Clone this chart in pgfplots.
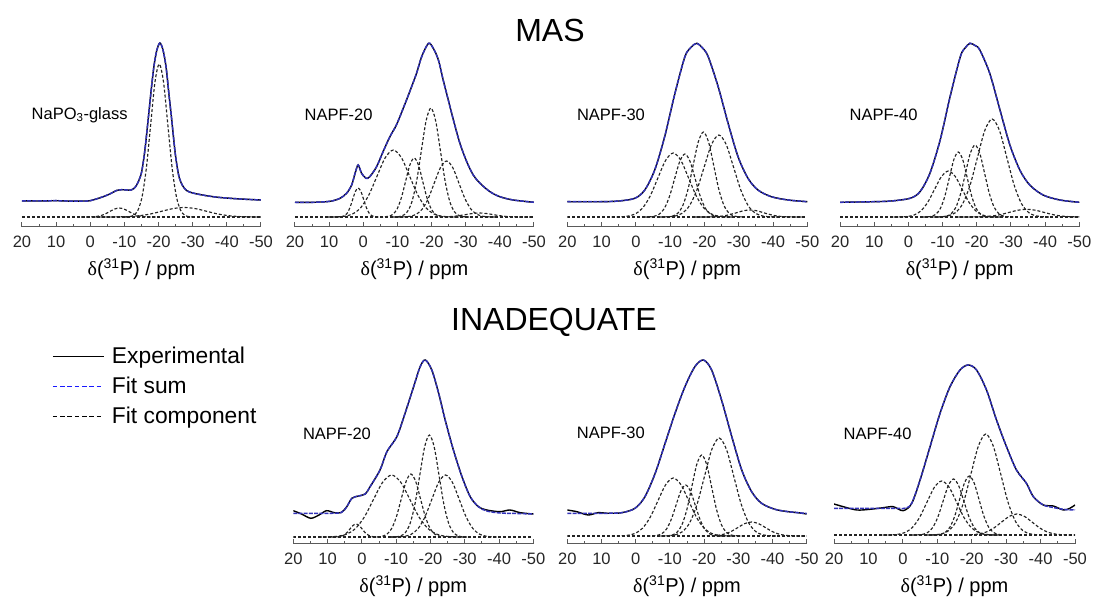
\documentclass[border=0pt]{standalone}
\usepackage{pgfplots}
\pgfplotsset{compat=1.18}
\usepackage{fontspec}
\setmainfont{Liberation Sans}
\newfontfamily\greekserif{Liberation Serif}

\definecolor{axisgray}{RGB}{90,90,90}
\definecolor{compgray}{RGB}{35,35,35}
\definecolor{sumblue}{RGB}{50,50,185}
\definecolor{legendblue}{RGB}{25,25,255}

\newcommand{\shiftlabel}{{\greekserif δ}(\textsuperscript{31}P) / ppm}

\pgfplotsset{
  nmr/.style={
    scale only axis, height=200pt,
    xmin=-50, xmax=20, x dir=reverse,
    ymin=0, ymax=200,
    axis x line*=bottom, axis y line=none, ytick=\empty,
    axis line style={-, axisgray, line width=1pt},
    xtick={-50,-40,-30,-20,-10,0,10,20},
    xticklabels={-50,-40,-30,-20,-10,0,10,20},
    minor x tick num=1,
    tick align=inside,
    major tick length=5pt, minor tick length=3pt,
    every tick/.style={axisgray, line width=1pt},
    xticklabel style={font=\fontsize{16.5}{16.5}\selectfont, text=black!85, anchor=north, yshift=-5pt},
    xlabel={\shiftlabel},
    xlabel style={font=\fontsize{20}{20}\selectfont, at={(axis description cs:0.5,0)}, anchor=center, yshift=-42pt},
    anchor=south west,
  },
  exp/.style={black, line width=1.4pt, smooth},
  fit/.style={sumblue, line width=1.5pt, dash pattern=on 4pt off 1.2pt, smooth},
  comp/.style={compgray, line width=1.15pt, dash pattern=on 3pt off 2pt, smooth},
  base/.style={compgray, line width=1.15pt, dash pattern=on 3pt off 2pt},
}
\tikzset{tag/.style={anchor=west, font=\fontsize{16.5}{16.5}\selectfont}}

\begin{document}
\begin{tikzpicture}
\useasboundingbox (0pt,0pt) rectangle (1096pt,604pt);

\node[font=\fontsize{32}{32}\selectfont] at (550pt,574pt) {MAS};
\node[font=\fontsize{32}{32}\selectfont] at (554pt,282pt) {INADEQUATE};

% ---------------- MAS: NaPO3 glass ----------------
\begin{axis}[nmr, width=239pt, at={(22pt,377pt)}]
\addplot[base] coordinates {(20,10)(-50,10)};
\addplot[comp] coordinates {(-10.2,10)(-11.45,10.3)(-12.7,11.7)(-13.95,16.7)(-15.2,30.7)(-16.45,59.7)(-17.7,102.8)(-18.95,145.0)(-20.2,163)(-21.45,145.0)(-22.7,102.8)(-23.95,59.7)(-25.2,30.7)(-26.45,16.7)(-27.7,11.7)(-28.95,10.3)(-30.2,10)};
\addplot[comp] coordinates {(2.7,10)(1.3,10.0)(-0.1,10.1)(-1.5,10.4)(-2.9,11.2)(-4.3,12.9)(-5.7,15.5)(-7.1,17.9)(-8.5,19)(-9.9,17.9)(-11.3,15.5)(-12.7,12.9)(-14.1,11.2)(-15.5,10.4)(-16.9,10.1)(-18.3,10.0)(-19.7,10)};
\addplot[comp] coordinates {(-1.5,10)(-4.75,10.0)(-8,10.1)(-11.25,10.4)(-14.5,11.3)(-17.75,13.1)(-21,15.8)(-24.25,18.4)(-27.5,19.5)(-30.75,18.4)(-34,15.8)(-37.25,13.1)(-40.5,11.3)(-43.75,10.4)(-47,10.1)(-50.25,10.0)(-53.5,10)};
\addplot[exp] coordinates {(20,26.2)(15,26)(10,26.3)(5,25.8)(2,26)(0,26.3)(-3.8,30.3)(-6,33.5)(-7.7,36.5)(-9.2,37.3)(-10.7,37)(-12,37)(-12.8,38.5)(-13.6,42)(-14.4,48)(-15.1,56)(-16,77)(-17,109)(-18,142)(-18.7,162)(-19.5,177)(-20.4,184)(-21.3,177)(-22.2,160)(-23,134)(-23.8,109)(-24.8,76)(-25.5,59)(-26.1,49)(-27,41.5)(-28.2,36.5)(-30,34)(-34,31.3)(-38,29.5)(-44,28)(-50,27)};
\addplot[fit] coordinates {(20,26.2)(15,26)(10,26.3)(5,25.8)(2,26)(0,26.3)(-3.8,30.3)(-6,33.5)(-7.7,36.5)(-9.2,37.3)(-10.7,37)(-12,37)(-12.8,38.5)(-13.6,42)(-14.4,48)(-15.1,56)(-16,77)(-17,109)(-18,142)(-18.7,162)(-19.5,177)(-20.4,184)(-21.3,177)(-22.2,160)(-23,134)(-23.8,109)(-24.8,76)(-25.5,59)(-26.1,49)(-27,41.5)(-28.2,36.5)(-30,34)(-34,31.3)(-38,29.5)(-44,28)(-50,27)};
\node[tag] at (axis cs:18.2,112) {NaPO\textsubscript{3}-glass};
\end{axis}

% ---------------- MAS: NAPF-20 ----------------
\begin{axis}[nmr, width=239pt, at={(295pt,377pt)}]
\addplot[base] coordinates {(20,10)(-50,10)};
\addplot[comp] coordinates {(7.9,10)(7.1,10.1)(6.3,10.3)(5.5,11.3)(4.7,13.9)(3.9,19.4)(3.1,27.6)(2.3,35.6)(1.5,39)(0.7,35.6)(-0.1,27.6)(-0.9,19.4)(-1.7,13.9)(-2.5,11.3)(-3.3,10.3)(-4.1,10.1)(-4.9,10)};
\addplot[comp] coordinates {(10.4,10)(8.0,10.1)(5.6,10.7)(3.2,12.9)(0.8,19.1)(-1.6,31.8)(-4.0,50.6)(-6.4,69.1)(-8.8,77)(-11.2,69.1)(-13.6,50.6)(-16.0,31.8)(-18.4,19.1)(-20.8,12.9)(-23.2,10.7)(-25.6,10.1)(-28.0,10)};
\addplot[comp] coordinates {(-4.9,10)(-6.15,10.1)(-7.4,10.7)(-8.65,12.6)(-9.9,18.0)(-11.15,29.2)(-12.4,45.8)(-13.65,62.1)(-14.9,69)(-16.15,62.1)(-17.4,45.8)(-18.65,29.2)(-19.9,18.0)(-21.15,12.6)(-22.4,10.7)(-23.65,10.1)(-24.9,10)};
\addplot[comp] coordinates {(-8.6,10)(-10.0,10.2)(-11.4,11.2)(-12.8,14.8)(-14.2,24.7)(-15.6,45.4)(-17.0,76.1)(-18.4,106.2)(-19.8,119)(-21.2,106.2)(-22.6,76.1)(-24.0,45.4)(-25.4,24.7)(-26.8,14.8)(-28.2,11.2)(-29.6,10.2)(-31.0,10)};
\addplot[comp] coordinates {(-10.0,10)(-11.8,10.1)(-13.6,10.6)(-15.4,12.5)(-17.2,17.6)(-19.0,28.2)(-20.8,44.0)(-22.6,59.4)(-24.4,66)(-26.2,59.4)(-28.0,44.0)(-29.8,28.2)(-31.6,17.6)(-33.4,12.5)(-35.2,10.6)(-37.0,10.1)(-38.8,10)};
\addplot[comp] coordinates {(-18,10)(-20,10)(-22,10.0)(-24,10.2)(-26,10.5)(-28,11.3)(-30,12.4)(-32,13.5)(-34,14)(-36,13.5)(-38,12.4)(-40,11.3)(-42,10.5)(-44,10.2)(-46,10.0)(-48,10)(-50,10)};
\addplot[exp] coordinates {(20,24.7)(14.6,24.7)(9.7,25.7)(6.8,28.7)(4.9,33.7)(3.4,42)(2.4,53.7)(1.5,62)(0.5,53.7)(-0.8,48.7)(-1.9,50.3)(-3.9,60.3)(-5.8,75.3)(-7.8,90.3)(-9.7,102)(-11.7,118.7)(-13.6,135.3)(-15.6,153.7)(-17.1,170.3)(-19.1,183.7)(-20.5,178.7)(-22,167)(-23.4,147)(-24.9,127)(-26.4,107)(-28.3,83.7)(-30.3,65.3)(-32.2,52)(-34.2,43.7)(-37.1,35.3)(-40,30.3)(-43.9,27)(-50,24.7)};
\addplot[fit] coordinates {(20,24.7)(14.6,24.7)(9.7,25.7)(6.8,28.7)(4.9,33.7)(3.4,42)(2.4,53.7)(1.5,62)(0.5,53.7)(-0.8,48.7)(-1.9,50.3)(-3.9,60.3)(-5.8,75.3)(-7.8,90.3)(-9.7,102)(-11.7,118.7)(-13.6,135.3)(-15.6,153.7)(-17.1,170.3)(-19.1,183.7)(-20.5,178.7)(-22,167)(-23.4,147)(-24.9,127)(-26.4,107)(-28.3,83.7)(-30.3,65.3)(-32.2,52)(-34.2,43.7)(-37.1,35.3)(-40,30.3)(-43.9,27)(-50,24.7)};
\node[tag] at (axis cs:18.2,112) {NAPF-20};
\end{axis}

% ---------------- MAS: NAPF-30 ----------------
\begin{axis}[nmr, width=240pt, at={(567.3pt,377pt)}]
\addplot[base] coordinates {(20,10)(-50,10)};
\addplot[comp] coordinates {(7.1,10)(4.85,10.1)(2.6,10.7)(0.35,12.8)(-1.9,18.7)(-4.15,30.8)(-6.4,48.8)(-8.65,66.5)(-10.9,74)(-13.15,66.5)(-15.4,48.8)(-17.65,30.8)(-19.9,18.7)(-22.15,12.8)(-24.4,10.7)(-26.65,10.1)(-28.9,10)};
\addplot[comp] coordinates {(-2.3,10)(-3.8,10.1)(-5.3,10.7)(-6.8,12.8)(-8.3,18.5)(-9.8,30.5)(-11.3,48.2)(-12.8,65.6)(-14.3,73)(-15.8,65.6)(-17.3,48.2)(-18.8,30.5)(-20.3,18.5)(-21.8,12.8)(-23.3,10.7)(-24.8,10.1)(-26.3,10)};
\addplot[comp] coordinates {(-7.7,10)(-9.2,10.2)(-10.7,10.9)(-12.2,13.7)(-13.7,21.5)(-15.2,37.6)(-16.7,61.6)(-18.2,85.0)(-19.7,95)(-21.2,85.0)(-22.7,61.6)(-24.2,37.6)(-25.7,21.5)(-27.2,13.7)(-28.7,10.9)(-30.2,10.2)(-31.7,10)};
\addplot[comp] coordinates {(-7.0,10)(-9.15,10.2)(-11.3,10.9)(-13.45,13.6)(-15.6,21.1)(-17.75,36.6)(-19.9,59.7)(-22.05,82.4)(-24.2,92)(-26.35,82.4)(-28.5,59.7)(-30.65,36.6)(-32.8,21.1)(-34.95,13.6)(-37.1,10.9)(-39.25,10.2)(-41.4,10)};
\addplot[comp] coordinates {(-17.3,10)(-19.3,10)(-21.3,10.1)(-23.3,10.3)(-25.3,10.9)(-27.3,12.3)(-29.3,14.2)(-31.3,16.2)(-33.3,17)(-35.3,16.2)(-37.3,14.2)(-39.3,12.3)(-41.3,10.9)(-43.3,10.3)(-45.3,10.1)(-47.3,10)(-49.3,10)};
\addplot[exp] coordinates {(20,25.3)(10,25.3)(5,26)(0.3,28.7)(-2.6,37)(-5.5,57)(-8.4,90.3)(-11.4,133.7)(-14.3,170.3)(-16,179.3)(-17.7,183.7)(-19.5,178.8)(-21.1,170.3)(-24,140.3)(-26.9,103.7)(-29.8,70.3)(-32.7,48.7)(-35.6,37)(-39.5,30.3)(-44.4,27)(-50,25.3)};
\addplot[fit] coordinates {(20,25.3)(10,25.3)(5,26)(0.3,28.7)(-2.6,37)(-5.5,57)(-8.4,90.3)(-11.4,133.7)(-14.3,170.3)(-16,179.3)(-17.7,183.7)(-19.5,178.8)(-21.1,170.3)(-24,140.3)(-26.9,103.7)(-29.8,70.3)(-32.7,48.7)(-35.6,37)(-39.5,30.3)(-44.4,27)(-50,25.3)};
\node[tag] at (axis cs:18.2,112) {NAPF-30};
\end{axis}

% ---------------- MAS: NAPF-40 ----------------
\begin{axis}[nmr, width=239.3pt, at={(840pt,377pt)}]
\addplot[base] coordinates {(20,10)(-50,10)};
\addplot[comp] coordinates {(4.3,10)(2.3,10.1)(0.3,10.5)(-1.7,12.0)(-3.7,16.2)(-5.7,24.9)(-7.7,37.9)(-9.7,50.6)(-11.7,56)(-13.7,50.6)(-15.7,37.9)(-17.7,24.9)(-19.7,16.2)(-21.7,12.0)(-23.7,10.5)(-25.7,10.1)(-27.7,10)};
\addplot[comp] coordinates {(-4.2,10)(-5.5,10.1)(-6.8,10.7)(-8.1,12.9)(-9.4,18.8)(-10.7,31.1)(-12.0,49.4)(-13.3,67.4)(-14.6,75)(-15.9,67.4)(-17.2,49.4)(-18.5,31.1)(-19.8,18.8)(-21.1,12.9)(-22.4,10.7)(-23.7,10.1)(-25.0,10)};
\addplot[comp] coordinates {(-8.3,10)(-9.7,10.2)(-11.1,10.8)(-12.5,13.2)(-13.9,19.7)(-15.3,33.4)(-16.7,53.7)(-18.1,73.5)(-19.5,82)(-20.9,73.5)(-22.3,53.7)(-23.7,33.4)(-25.1,19.7)(-26.5,13.2)(-27.9,10.8)(-29.3,10.2)(-30.7,10)};
\addplot[comp] coordinates {(-7.3,10)(-9.45,10.2)(-11.6,11.1)(-13.75,14.3)(-15.9,23.3)(-18.05,41.8)(-20.2,69.4)(-22.35,96.5)(-24.5,108)(-26.65,96.5)(-28.8,69.4)(-30.95,41.8)(-33.1,23.3)(-35.25,14.3)(-37.4,11.1)(-39.55,10.2)(-41.7,10)};
\addplot[comp] coordinates {(-14.6,10)(-17.1,10)(-19.6,10.1)(-22.1,10.3)(-24.6,11.0)(-27.1,12.5)(-29.6,14.7)(-32.1,16.8)(-34.6,17.7)(-37.1,16.8)(-39.6,14.7)(-42.1,12.5)(-44.6,11.0)(-47.1,10.3)(-49.6,10.1)(-52.1,10)(-54.6,10)};
\addplot[exp] coordinates {(20,24.7)(10,25.3)(5,26)(-0.5,28.7)(-3.4,35.3)(-6.3,53.7)(-9.3,87)(-12.2,130.3)(-15.2,170.3)(-16.6,179)(-18,183.7)(-19.5,181.5)(-20.9,177)(-23.8,153.7)(-26.8,117)(-29.7,82)(-32.6,57)(-35.5,42)(-39.4,32)(-44.3,27)(-50,24.7)};
\addplot[fit] coordinates {(20,24.7)(10,25.3)(5,26)(-0.5,28.7)(-3.4,35.3)(-6.3,53.7)(-9.3,87)(-12.2,130.3)(-15.2,170.3)(-16.6,179)(-18,183.7)(-19.5,181.5)(-20.9,177)(-23.8,153.7)(-26.8,117)(-29.7,82)(-32.6,57)(-35.5,42)(-39.4,32)(-44.3,27)(-50,24.7)};
\node[tag] at (axis cs:18.2,112) {NAPF-40};
\end{axis}

% ---------------- INADEQUATE: NAPF-20 (carries the legend) ----------------
\begin{axis}[nmr, width=240pt, at={(293.3pt,60pt)},
  legend cell align=left,
  legend image code/.code={\draw[#1] (0pt,0pt) -- (51pt,0pt); \path (54pt,0pt);},
  legend style={at={(axis description cs:-1.005,0.995)}, anchor=north west,
    draw=none, fill=none, inner sep=0pt, row sep=8pt,
    font=\fontsize{22.8}{22.8}\selectfont,
    nodes={inner xsep=4.5pt, inner ysep=2pt}}]
\addlegendimage{black, line width=1.2pt}
\addlegendentry{Experimental}
\addlegendimage{legendblue, line width=1.2pt, dash pattern=on 4.5pt off 2.8pt}
\addlegendentry{Fit sum}
\addlegendimage{black, line width=1.2pt, dash pattern=on 4.5pt off 2.8pt}
\addlegendentry{Fit component}
\addplot[base] coordinates {(20,7)(-50,7)};
\addplot[comp] coordinates {(8.9,7)(8.0,7)(7.1,7.1)(6.2,7.6)(5.3,8.8)(4.4,11.2)(3.5,14.9)(2.6,18.5)(1.7,20)(0.8,18.5)(-0.1,14.9)(-1.0,11.2)(-1.9,8.8)(-2.8,7.6)(-3.7,7.1)(-4.6,7)(-5.5,7)};
\addplot[comp] coordinates {(12.5,7)(9.85,7.1)(7.2,7.7)(4.55,9.7)(1.9,15.4)(-0.75,27.1)(-3.4,44.6)(-6.05,61.7)(-8.7,69)(-11.35,61.7)(-14.0,44.6)(-16.65,27.1)(-19.3,15.4)(-21.95,9.7)(-24.6,7.7)(-27.25,7.1)(-29.9,7)};
\addplot[comp] coordinates {(-3.1,7)(-4.5,7.1)(-5.9,7.7)(-7.3,9.8)(-8.7,15.5)(-10.1,27.5)(-11.5,45.2)(-12.9,62.6)(-14.3,70)(-15.7,62.6)(-17.1,45.2)(-18.5,27.5)(-19.9,15.5)(-21.3,9.8)(-22.7,7.7)(-24.1,7.1)(-25.5,7)};
\addplot[comp] coordinates {(-8.5,7)(-9.9,7.2)(-11.3,8.1)(-12.7,11.5)(-14.1,20.8)(-15.5,40.1)(-16.9,68.9)(-18.3,97.0)(-19.7,109)(-21.1,97.0)(-22.5,68.9)(-23.9,40.1)(-25.3,20.8)(-26.7,11.5)(-28.1,8.1)(-29.5,7.2)(-30.9,7)};
\addplot[comp] coordinates {(-8.4,7)(-10.4,7.1)(-12.4,7.7)(-14.4,9.7)(-16.4,15.4)(-18.4,27.1)(-20.4,44.6)(-22.4,61.7)(-24.4,69)(-26.4,61.7)(-28.4,44.6)(-30.4,27.1)(-32.4,15.4)(-34.4,9.7)(-36.4,7.7)(-38.4,7.1)(-40.4,7)};
\addplot[exp] coordinates {(20,33.3)(17.6,30)(14.9,25.7)(12.5,29)(10.3,33.3)(8,31.3)(6,31.5)(4.4,37.3)(2.9,45.7)(1,48)(-1,50)(-2.4,57.3)(-5.3,74)(-7.3,92.3)(-10.2,107.3)(-12.6,130.7)(-15.1,157.3)(-17,177.3)(-18.5,184)(-20.4,174)(-22.4,150.7)(-24.3,124)(-26.7,94)(-29.2,67.3)(-31.6,47.3)(-34,37.3)(-36.4,34)(-40.3,32.3)(-43.2,34)(-46.2,31.3)(-50,30)};
\addplot[fit] coordinates {(20,30.7)(10,30.7)(6,31.5)(4.4,37.3)(2.9,45.7)(1,48)(-1,50)(-2.4,57.3)(-5.3,74)(-7.3,92.3)(-10.2,107.3)(-12.6,130.7)(-15.1,157.3)(-17,177.3)(-18.5,184)(-20.4,174)(-22.4,150.7)(-24.3,124)(-26.7,94)(-29.2,67.3)(-31.6,47.3)(-34,37.3)(-36.4,33)(-40.3,31)(-45,30.5)(-50,30)};
\node[tag] at (axis cs:18.2,110) {NAPF-20};
\end{axis}

% ---------------- INADEQUATE: NAPF-30 ----------------
\begin{axis}[nmr, width=239.4pt, at={(567.3pt,60pt)}]
\addplot[base] coordinates {(20,8)(-50,8)};
\addplot[comp] coordinates {(7,8)(4.75,8.1)(2.5,8.6)(0.25,10.5)(-2,15.8)(-4.25,26.8)(-6.5,43.2)(-8.75,59.2)(-11,66)(-13.25,59.2)(-15.5,43.2)(-17.75,26.8)(-20,15.8)(-22.25,10.5)(-24.5,8.6)(-26.75,8.1)(-29,8)};
\addplot[comp] coordinates {(-3.4,8)(-4.8,8.1)(-6.2,8.6)(-7.6,10.2)(-9.0,14.9)(-10.4,24.6)(-11.8,38.9)(-13.2,53.0)(-14.6,59)(-16.0,53.0)(-17.4,38.9)(-18.8,24.6)(-20.2,14.9)(-21.6,10.2)(-23.0,8.6)(-24.4,8.1)(-25.8,8)};
\addplot[comp] coordinates {(-7.7,8)(-9.15,8.2)(-10.6,8.9)(-12.05,11.6)(-13.5,19.0)(-14.95,34.3)(-16.4,57.1)(-17.85,79.5)(-19.3,89)(-20.75,79.5)(-22.2,57.1)(-23.65,34.3)(-25.1,19.0)(-26.55,11.6)(-28.0,8.9)(-29.45,8.2)(-30.9,8)};
\addplot[comp] coordinates {(-7.2,8)(-9.35,8.2)(-11.5,9.1)(-13.65,12.3)(-15.8,21.3)(-17.95,39.8)(-20.1,67.4)(-22.25,94.5)(-24.4,106)(-26.55,94.5)(-28.7,67.4)(-30.85,39.8)(-33.0,21.3)(-35.15,12.3)(-37.3,9.1)(-39.45,8.2)(-41.6,8)};
\addplot[comp] coordinates {(-17.9,8)(-19.9,8)(-21.9,8.2)(-23.9,8.6)(-25.9,9.9)(-27.9,12.5)(-29.9,16.5)(-31.9,20.4)(-33.9,22)(-35.9,20.4)(-37.9,16.5)(-39.9,12.5)(-41.9,9.9)(-43.9,8.6)(-45.9,8.2)(-47.9,8)(-49.9,8)};
\addplot[exp] coordinates {(20,34)(17.2,32.3)(13.9,29)(11,31.3)(8,30.7)(4.1,31.3)(0.2,35.7)(-2.7,47.3)(-5.7,70.7)(-8.6,100.7)(-11.5,130.7)(-14.4,157.3)(-17.3,177.3)(-19.8,184)(-22.2,174)(-25.1,144)(-28.1,107.3)(-31,74)(-33.9,52.3)(-36.8,40.7)(-40.7,34.7)(-44.6,32.3)(-47,31.5)(-50,30)};
\addplot[fit] coordinates {(20,30.7)(10,30.7)(4.1,31.3)(0.2,35.7)(-2.7,47.3)(-5.7,70.7)(-8.6,100.7)(-11.5,130.7)(-14.4,157.3)(-17.3,177.3)(-19.8,184)(-22.2,174)(-25.1,144)(-28.1,107.3)(-31,74)(-33.9,52.3)(-36.8,40.7)(-40.7,34.7)(-44.6,32.3)(-50,30.5)};
\node[tag] at (axis cs:18.2,110.7) {NAPF-30};
\end{axis}

% ---------------- INADEQUATE: NAPF-40 ----------------
\begin{axis}[nmr, width=241pt, at={(834pt,60pt)}]
\addplot[base] coordinates {(20,9)(-50,9)};
\addplot[comp] coordinates {(5.9,9)(3.75,9.1)(1.6,9.6)(-0.55,11.4)(-2.7,16.3)(-4.85,26.5)(-7.0,41.8)(-9.15,56.7)(-11.3,63)(-13.45,56.7)(-15.6,41.8)(-17.75,26.5)(-19.9,16.3)(-22.05,11.4)(-24.2,9.6)(-26.35,9.1)(-28.5,9)};
\addplot[comp] coordinates {(-2.7,9)(-4.2,9.1)(-5.7,9.6)(-7.2,11.5)(-8.7,16.6)(-10.2,27.2)(-11.7,43.0)(-13.2,58.4)(-14.7,65)(-16.2,58.4)(-17.7,43.0)(-19.2,27.2)(-20.7,16.6)(-22.2,11.5)(-23.7,9.6)(-25.2,9.1)(-26.7,9)};
\addplot[comp] coordinates {(-8.1,9)(-9.5,9.1)(-10.9,9.7)(-12.3,11.6)(-13.7,17.0)(-15.1,28.2)(-16.5,44.8)(-17.9,61.1)(-19.3,68)(-20.7,61.1)(-22.1,44.8)(-23.5,28.2)(-24.9,17.0)(-26.3,11.6)(-27.7,9.7)(-29.1,9.1)(-30.5,9)};
\addplot[comp] coordinates {(-6.9,9)(-9.05,9.2)(-11.2,10.1)(-13.35,13.4)(-15.5,22.7)(-17.65,41.8)(-19.8,70.3)(-21.95,98.1)(-24.1,110)(-26.25,98.1)(-28.4,70.3)(-30.55,41.8)(-32.7,22.7)(-34.85,13.4)(-37.0,10.1)(-39.15,9.2)(-41.3,9)};
\addplot[comp] coordinates {(-15.1,9)(-17.35,9)(-19.6,9.2)(-21.85,9.9)(-24.1,11.8)(-26.35,15.8)(-28.6,21.7)(-30.85,27.5)(-33.1,30)(-35.35,27.5)(-37.6,21.7)(-39.85,15.8)(-42.1,11.8)(-44.35,9.9)(-46.6,9.2)(-48.85,9)(-51.1,9)};
\addplot[exp] coordinates {(20,40)(17.3,37.3)(13.4,34)(9.5,34.7)(5.7,36.3)(2.8,37.3)(-0.1,33.3)(-2.6,40.7)(-5,64)(-7.9,97.3)(-10.8,130.7)(-13.7,157.3)(-16.6,174)(-19,179)(-21.4,174)(-24.3,154)(-27.2,124)(-30.1,97.3)(-33,74)(-35.9,60.7)(-37.9,47.3)(-40.8,39)(-43.7,38)(-46.6,34)(-48.5,35.7)(-50,39)};
\addplot[fit] coordinates {(20,35.7)(10,35.7)(4,35.7)(1,35.5)(-1,36)(-2.6,41)(-5,64)(-7.9,97.3)(-10.8,130.7)(-13.7,157.3)(-16.6,174)(-19,179)(-21.4,174)(-24.3,154)(-27.2,124)(-30.1,97.3)(-33,74)(-35.9,60.7)(-37.9,47.3)(-40.8,39)(-43.7,36.5)(-47,34.5)(-50,34)};
\node[tag] at (axis cs:18.2,109.7) {NAPF-40};
\end{axis}
\end{tikzpicture}
\end{document}
